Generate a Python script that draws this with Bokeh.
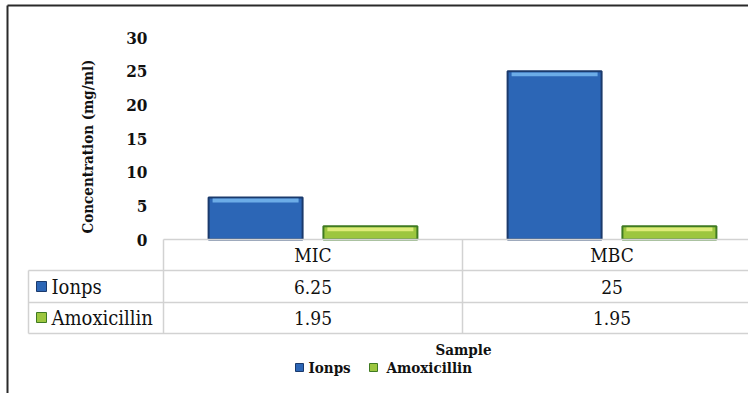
import math
from bokeh.plotting import figure
from bokeh.models import ColumnDataSource, Range1d
from bokeh.transform import dodge
from bokeh.core.properties import value
from bokeh.embed import file_html
from bokeh.resources import INLINE

# ---- data ----
categories = ["MIC", "MBC"]
series_names = ["Ionps", "Amoxicillin"]
ionps = [6.25, 25]
amoxicillin = [1.95, 1.95]
y_ticks = [0, 5, 10, 15, 20, 25, 30]
y_title = "Concentration (mg/ml)"
x_title = "Sample"

FONT = value("'DejaVu Serif Condensed', 'DejaVu Serif'")
BLUE = "#2c66b6"
BLUE_HI = "#73b4ec"
BLUE_EDGE = "#1b3a6c"
GREEN = "#9cc63f"
GREEN_HI = "#e1ee7c"
GREEN_EDGE = "#3f7a22"
GRID = "#d2d2d2"
INK = "#111111"

W, H = 748, 393
COL_PX = 299.0          # width of one category column
PLOT_LEFT = 163.0       # left edge of the first category column
ZERO_PX = 239.0         # baseline (pixel row of y = 0)
UNIT_PX = 6.733         # pixels per mg/ml

p = figure(width=W, height=H, output_backend="svg", toolbar_location=None,
           x_axis_type=None, y_axis_type=None, min_border=0,
           x_range=Range1d(-PLOT_LEFT / COL_PX, (W - PLOT_LEFT) / COL_PX),
           y_range=Range1d(-(H - ZERO_PX) / UNIT_PX, ZERO_PX / UNIT_PX))
p.outline_line_color = None
p.background_fill_color = "white"
p.border_fill_color = "white"
# pixel-style helper ranges for the table and decorations
p.extra_x_ranges = {"px": Range1d(0, W)}
p.extra_y_ranges = {"px": Range1d(H, 0)}

xpos = [i + 0.5 for i in range(len(categories))]
src = ColumnDataSource(dict(x=xpos, cat=categories, ionps=ionps, amox=amoxicillin,
                            ionps_hi_b=[v - 5 / UNIT_PX for v in ionps],
                            amox_hi_b=[v - 5 / UNIT_PX for v in amoxicillin],
                            ionps_hi_t=[v - 1.2 / UNIT_PX for v in ionps],
                            amox_hi_t=[v - 1.2 / UNIT_PX for v in amoxicillin]))

BW = 94 / COL_PX
OFF = 0.192

# bars with a light bevel strip on top
p.vbar(x=dodge("x", -OFF), top="ionps", bottom=0, width=BW, source=src,
       fill_color=BLUE, line_color=BLUE_EDGE, line_width=2)
p.vbar(x=dodge("x", -OFF), top="ionps_hi_t", bottom="ionps_hi_b", width=BW - 8 / COL_PX,
       source=src, fill_color=BLUE_HI, line_color=None, fill_alpha=0.9)
p.vbar(x=dodge("x", OFF), top="amox", bottom=0, width=BW, source=src,
       fill_color=GREEN, line_color=GREEN_EDGE, line_width=2)
p.vbar(x=dodge("x", OFF), top="amox_hi_t", bottom="amox_hi_b", width=BW - 8 / COL_PX,
       source=src, fill_color=GREEN_HI, line_color=None, fill_alpha=0.95)

# y tick labels
p.text(x=[147] * len(y_ticks), y=y_ticks, text=[str(t) for t in y_ticks],
       x_range_name="px", text_font=FONT, text_font_size="17px", text_font_style="bold",
       text_align="right", text_baseline="middle", text_color=INK)
# y axis title
p.text(x=[87], y=[146], text=[y_title], angle=math.pi / 2, x_range_name="px", y_range_name="px",
       text_font=FONT, text_font_size="15px", text_font_style="bold",
       text_align="center", text_baseline="middle", text_color=INK)

# data table grid
right = W
p.segment(x0=[PLOT_LEFT, 28, 28, 28, PLOT_LEFT, PLOT_LEFT + COL_PX, 28],
          y0=[ZERO_PX, 270, 302, 333, ZERO_PX, ZERO_PX, 270],
          x1=[right, right, right, right, PLOT_LEFT, PLOT_LEFT + COL_PX, 28],
          y1=[ZERO_PX, 270, 302, 333, 333, 333, 333],
          x_range_name="px", y_range_name="px", line_color=GRID, line_width=1.5)

# table header and values
p.text(x=xpos, y=[254] * len(categories), text=categories, y_range_name="px",
       text_font=FONT, text_font_size="19px", text_align="center", text_baseline="middle",
       text_color=INK)
p.text(x=xpos, y=[286] * len(categories), text=[f"{v:g}" for v in ionps], y_range_name="px",
       text_font=FONT, text_font_size="19px", text_align="center", text_baseline="middle",
       text_color=INK)
p.text(x=xpos, y=[317] * len(categories), text=[f"{v:g}" for v in amoxicillin], y_range_name="px",
       text_font=FONT, text_font_size="19px", text_align="center", text_baseline="middle",
       text_color=INK)

# row headers with legend keys
p.rect(x=[41, 41], y=[286, 317], width=10, height=10, x_range_name="px", y_range_name="px",
       fill_color=[BLUE, GREEN], line_color=[BLUE_EDGE, GREEN_EDGE], line_width=1)
p.text(x=[51, 51], y=[286, 317], text=series_names, x_range_name="px", y_range_name="px",
       text_font=FONT, text_font_size="20px", text_align="left", text_baseline="middle",
       text_color=INK)

# x title and bottom legend
p.text(x=[463], y=[349], text=[x_title], x_range_name="px", y_range_name="px",
       text_font=FONT, text_font_size="15px", text_font_style="bold",
       text_align="center", text_baseline="middle", text_color=INK)
p.rect(x=[299, 373], y=[367, 367], width=8, height=8, x_range_name="px", y_range_name="px",
       fill_color=[BLUE, GREEN], line_color=[BLUE_EDGE, GREEN_EDGE], line_width=1)
p.text(x=[308, 386], y=[367, 367], text=series_names, x_range_name="px", y_range_name="px",
       text_font=FONT, text_font_size="15px", text_font_style="bold",
       text_align="left", text_baseline="middle", text_color=INK)

# outer frame (left and top edges)
p.segment(x0=[7, 7], y0=[5, 5], x1=[7, W], y1=[H, 5], x_range_name="px", y_range_name="px",
          line_color="#2a2a2a", line_width=2)

open("out.html", "w").write(file_html(p, INLINE))
